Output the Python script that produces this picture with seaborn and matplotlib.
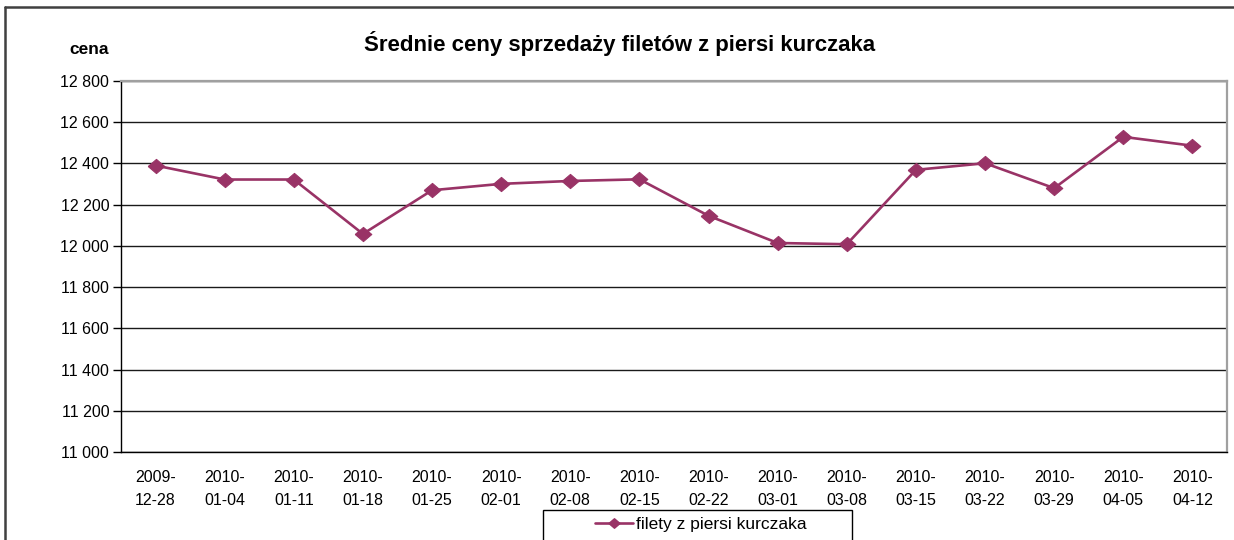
import numpy as np
import pandas as pd
import seaborn as sns
import matplotlib.pyplot as plt
from matplotlib.ticker import FuncFormatter, FixedLocator
from matplotlib.patches import Rectangle
from matplotlib.lines import Line2D

sns.set_style("white")
plt.rcParams['font.family'] = ['Liberation Sans', 'DejaVu Sans']
plt.rcParams['text.color'] = 'black'
plt.rcParams['xtick.color'] = 'black'
plt.rcParams['ytick.color'] = 'black'

# weekly dates and average prices
dates = ["2009-12-28", "2010-01-04", "2010-01-11", "2010-01-18", "2010-01-25",
         "2010-02-01", "2010-02-08", "2010-02-15", "2010-02-22", "2010-03-01",
         "2010-03-08", "2010-03-15", "2010-03-22", "2010-03-29", "2010-04-05",
         "2010-04-12"]
prices = [12390, 12322, 12322, 12058, 12270, 12301, 12315, 12323, 12146, 12014,
          12008, 12369, 12401, 12280, 12529, 12486]
series_name = "filety z piersi kurczaka"
title = "Średnie ceny sprzedaży filetów z piersi kurczaka"
y_label = "cena"

df = pd.DataFrame({"data": dates, "cena": prices})
df["pos"] = np.arange(len(df))

line_color = "#993366"
# slightly wide diamond like the excel marker
diamond = [(-1.17, 0), (0, 1), (1.17, 0), (0, -1), (-1.17, 0)]

W, H = 1234, 540
fig = plt.figure(figsize=(W / 100, H / 100), dpi=100)
ax = fig.add_axes([121 / W, 1 - 452 / H, (1227 - 121) / W, (452 - 81) / H])

sns.lineplot(data=df, x="pos", y="cena", ax=ax, color=line_color, marker=diamond,
             markersize=12, linewidth=1.9, markeredgecolor=line_color, sort=False)

ax.set_xlim(-0.5, len(dates) - 0.5)
ax.set_ylim(11000, 12800)
ax.set_yticks(np.arange(11000, 12801, 200))
ax.yaxis.set_major_formatter(FuncFormatter(lambda v, p: "{:,.0f}".format(v).replace(",", " ")))
ax.grid(axis="y", color="#1a1a1a", linewidth=1.0)
ax.set_axisbelow(True)

ax.set_xticks(df["pos"])
ax.set_xticklabels([d[:5] + "\n" + d[5:] for d in dates], linespacing=1.65)
ax.xaxis.set_minor_locator(FixedLocator(np.arange(-0.5, len(dates), 1.0)))
ax.tick_params(axis="x", which="major", length=0, pad=13, labelsize=11.5, colors="black")
ax.tick_params(axis="x", which="minor", length=4, width=1, color="black", direction="out")
ax.tick_params(axis="y", length=6, width=1, color="black", direction="out", pad=2.5,
               labelsize=11.5, left=True, colors="black")
ax.set_xlabel("")
ax.set_ylabel("")

for s in ["left", "bottom"]:
    ax.spines[s].set_color("black")
    ax.spines[s].set_linewidth(1.0)
for s in ["top", "right"]:
    ax.spines[s].set_color("#a0a0a0")
    ax.spines[s].set_linewidth(1.6)

fig.text(620 / W, 1 - 43 / H, title, ha="center", va="center", fontsize=16, fontweight="bold")
fig.text(89 / W, 1 - 50 / H, y_label, ha="center", va="center", fontsize=12.5, fontweight="bold")

# outer chart border (cropped on right and bottom)
fig.add_artist(Line2D([5 / W, 1.0], [1 - 6.5 / H, 1 - 6.5 / H], color="#404040", linewidth=1.8))
fig.add_artist(Line2D([5 / W, 5 / W], [0, 1 - 6.5 / H], color="#404040", linewidth=1.8))

# legend box
fig.add_artist(Rectangle((543 / W, -0.02), (852 - 543) / W, 0.02 + 1 - 510 / H,
                         transform=fig.transFigure, fill=False, edgecolor="black", linewidth=1.0))
handle = Line2D([], [], color=line_color, marker=diamond, markersize=8, linewidth=1.9)
fig.legend([handle], [series_name], loc="center", bbox_to_anchor=(701 / W, 1 - 524 / H),
           frameon=False, fontsize=12.5, handlelength=2.2, handletextpad=0.15)

fig.savefig("out.png", dpi=100)
